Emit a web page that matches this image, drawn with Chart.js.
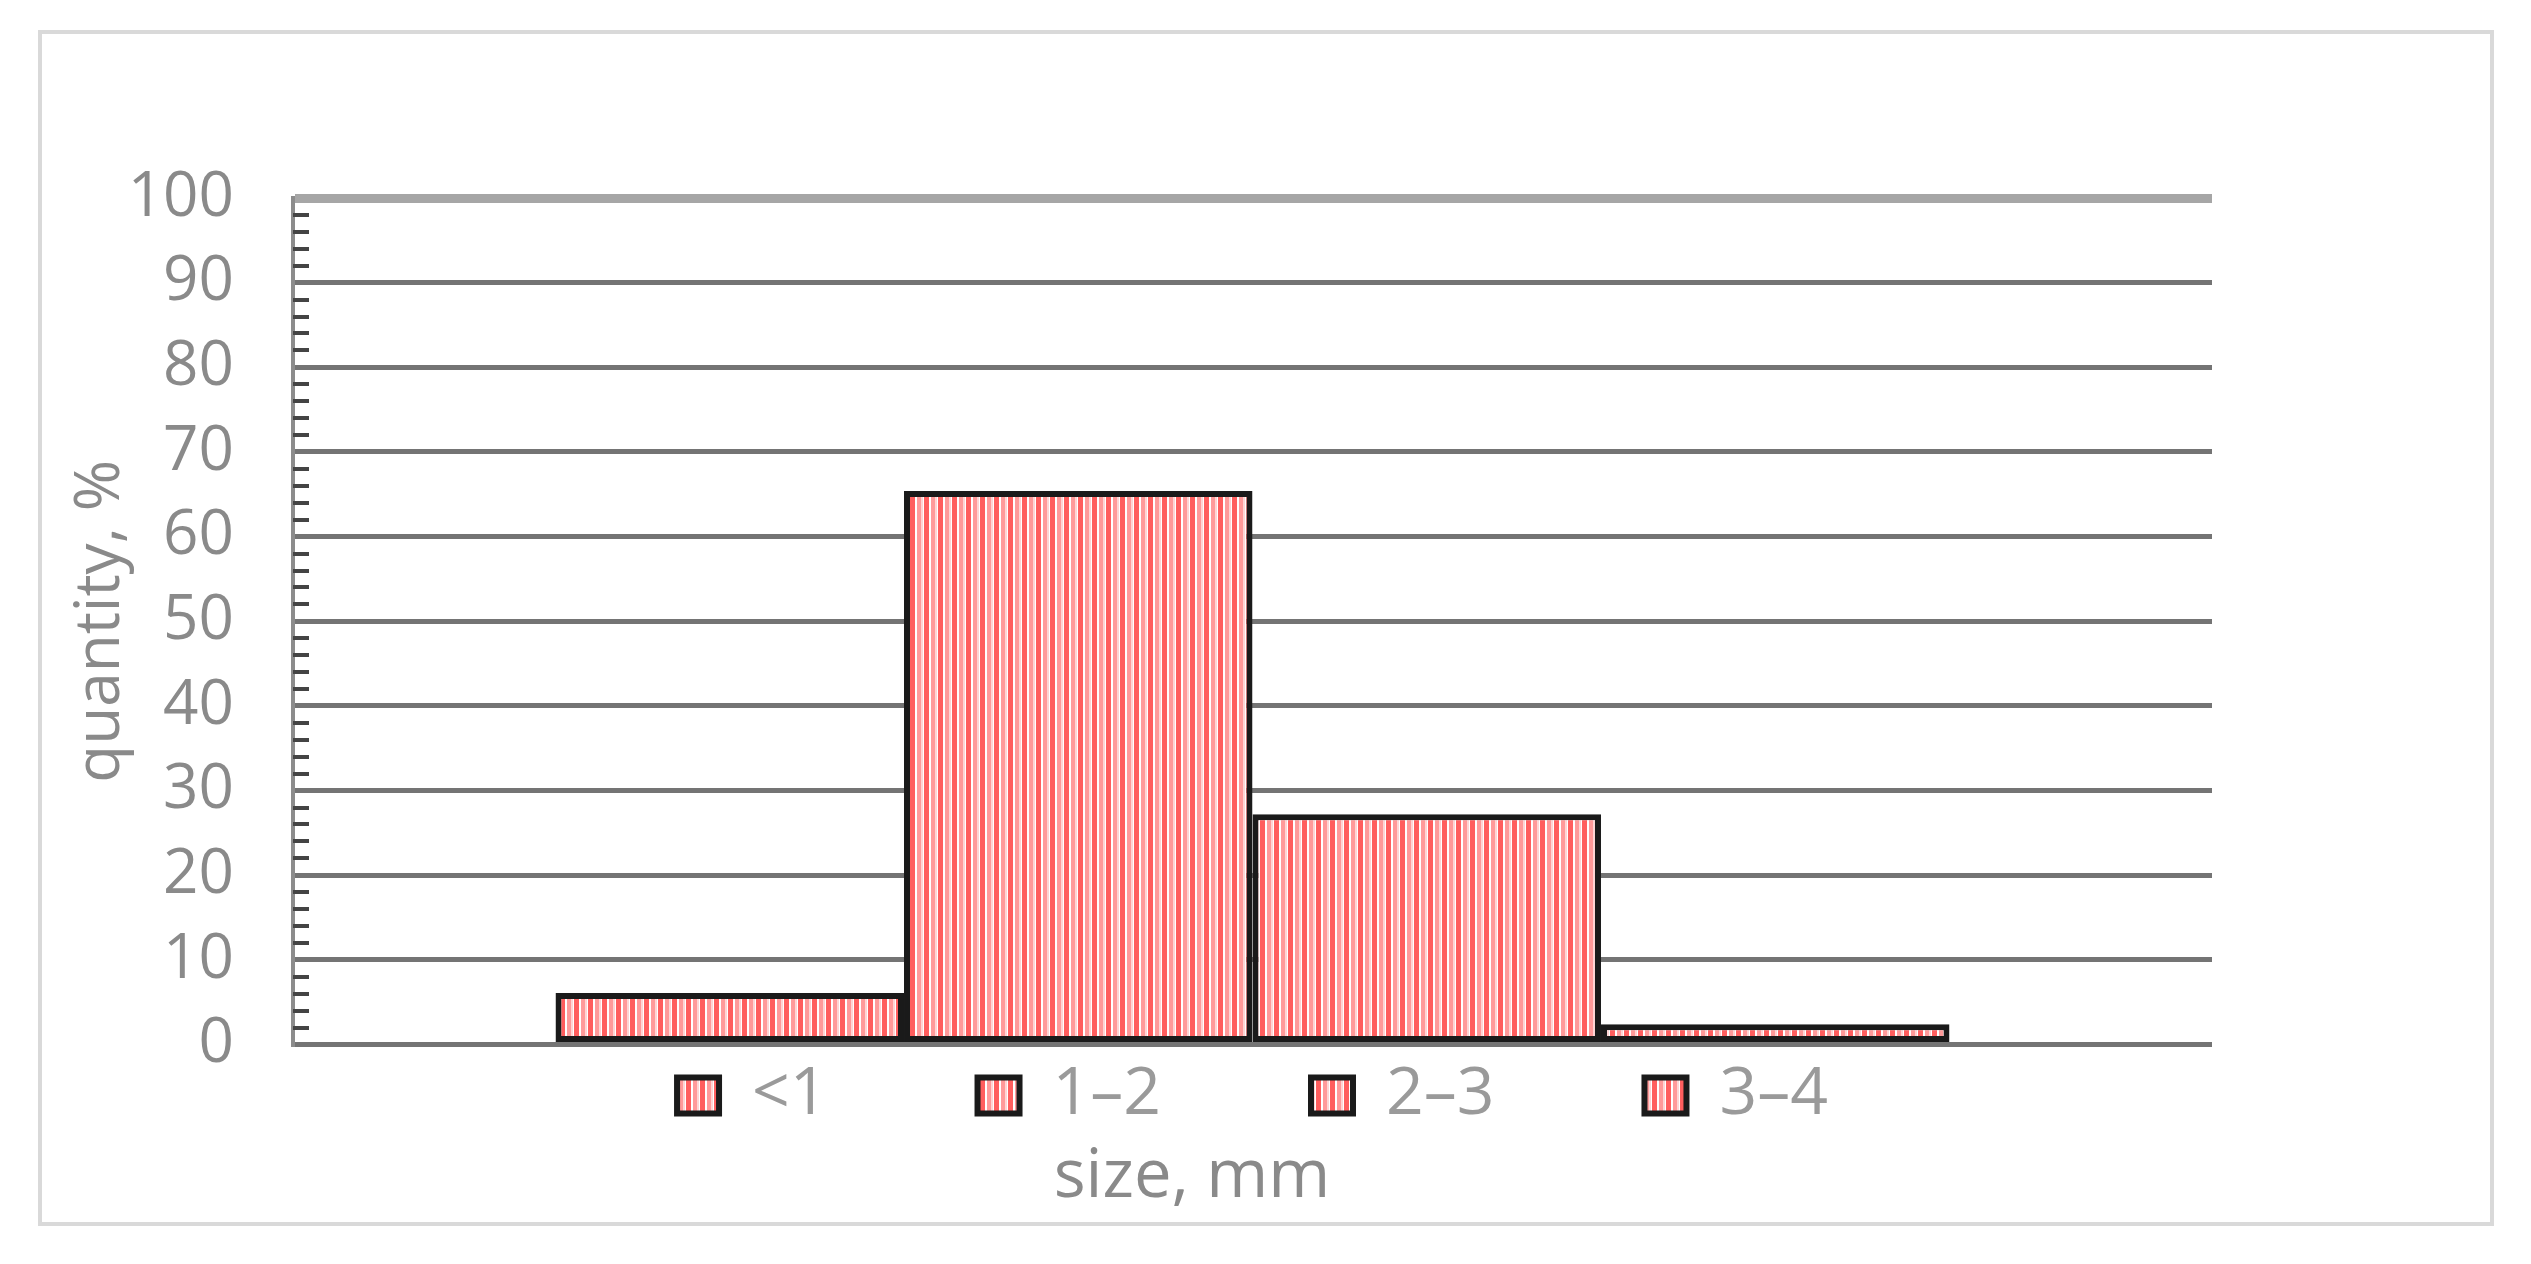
<!DOCTYPE html>
<html>
<head>
<meta charset="utf-8">
<script src="https://cdn.jsdelivr.net/npm/chart.js@4.4.1/dist/chart.umd.min.js"></script>
<style>
    html, body { margin: 0; padding: 0; background: #ffffff; }
    body { width: 2531px; height: 1264px; position: relative; overflow: hidden; }
    #frame {
        position: absolute; left: 38px; top: 30px;
        width: 2456px; height: 1196px;
        box-sizing: border-box;
        border: 4px solid #d9d9d9;
    }
    #grain { display: block; }
</style>
</head>
<body>
<div id="frame"><canvas id="grain" width="2448" height="1188"></canvas></div>
<script>
// one category, four size classes shown as adjacent bars
const categories = [''];
const sizeClasses = ['<1', '1–2', '2–3', '3–4'];
const quantityPct = [6.1, 65.4, 27.2, 2.4];

const yMin = 0;
const yMax = 100;
const yStep = 10;
const yMinorStep = 2;

const yTitle = 'quantity, %';
const xTitle = 'size, mm';

function stripePattern() {
    const c = document.createElement('canvas');
    c.width = 14;
    c.height = 8;
    const g = c.getContext('2d');
    g.fillStyle = '#ffffff';
    g.fillRect(0, 0, 14, 8);
    g.fillStyle = '#ff5e5e';
    g.fillRect(0, 0, 5, 8);
    g.fillStyle = '#ff9a9a';
    g.fillRect(7, 0, 4, 8);
    g.fillStyle = '#ffd4d4';
    g.fillRect(11, 0, 2, 8);
    return g.createPattern(c, 'repeat');
}

// short inside ticks every 2 units on the y axis
const minorTicks = {
    id: 'minorTicks',
    afterDatasetsDraw(chart) {
        const y = chart.scales.y;
        const ctx = chart.ctx;
        const x0 = chart.chartArea.left;
        ctx.save();
        ctx.strokeStyle = '#444444';
        ctx.lineWidth = 4;
        for (let v = yMin + yMinorStep; v < yMax; v += yMinorStep) {
            if (v % yStep === 0) continue;
            const py = Math.round(y.getPixelForValue(v));
            ctx.beginPath();
            ctx.moveTo(x0, py);
            ctx.lineTo(x0 + 16, py);
            ctx.stroke();
        }
        ctx.restore();
    }
};

// legend items spaced wide like the original, without a tall legend box:
// raise only the top edge so the row (drawn at top + padding) lands just under the axis.
// the axis title sits a little right of the plot centre in the original
const layoutTweaks = {
    id: 'layoutTweaks',
    afterLayout(chart) {
        const lg = chart.legend;
        if (lg) lg.top -= 132;
        const tb = chart.titleBlock;
        if (tb) { tb.left += 22; tb.right += 22; }
    }
};

function renderChart() {
    Chart.defaults.font.family = "'Open Sans', 'Liberation Sans', sans-serif";
    const fill = stripePattern();
    const ctx = document.getElementById('grain').getContext('2d');

    const datasets = sizeClasses.map(function (name, i) {
        return {
            label: name,
            data: [quantityPct[i]],
            backgroundColor: fill,
            borderColor: '#1a1a1a',
            borderWidth: 6,
            borderSkipped: false,
            categoryPercentage: 0.7264,
            barPercentage: 1.0
        };
    });

    new Chart(ctx, {
        type: 'bar',
        data: { labels: categories, datasets: datasets },
        options: {
            responsive: false,
            animation: false,
            devicePixelRatio: 1,
            layout: { padding: { left: 86, right: 278, top: 164, bottom: 4 } },
            scales: {
                x: { display: false },
                y: {
                    min: yMin,
                    max: yMax,
                    afterFit: function (scale) { scale.width = 165; },
                    ticks: {
                        stepSize: yStep,
                        padding: 59,
                        color: '#8a8a8a',
                        font: { size: 62 }
                    },
                    grid: {
                        drawTicks: false,
                        color: function (c) { return c.tick && c.tick.value === yMax ? '#a6a6a6' : '#747474'; },
                        lineWidth: function (c) { return c.tick && c.tick.value === yMax ? 9 : 5; }
                    },
                    border: { display: true, color: '#8c8c8c', width: 4 },
                    title: {
                        display: true,
                        text: yTitle,
                        color: '#8a8a8a',
                        font: { size: 62, lineHeight: 1.2 },
                        padding: { top: -64, bottom: 0 }
                    }
                }
            },
            plugins: {
                legend: {
                    position: 'bottom',
                    fullSize: false,
                    maxHeight: 93,
                    labels: {
                        color: '#9a9a9a',
                        font: { size: 66 },
                        boxWidth: 42,
                        boxHeight: 36,
                        padding: 150
                    }
                },
                title: {
                    display: true,
                    position: 'bottom',
                    text: xTitle,
                    color: '#8a8a8a',
                    font: { size: 67, weight: 'normal', lineHeight: 1.2 },
                    padding: { top: 0, bottom: 0 }
                },
                tooltip: { enabled: false }
            }
        },
        plugins: [minorTicks, layoutTweaks]
    });
}

window.addEventListener('load', function () {
    renderChart();
});
</script>
</body>
</html>
